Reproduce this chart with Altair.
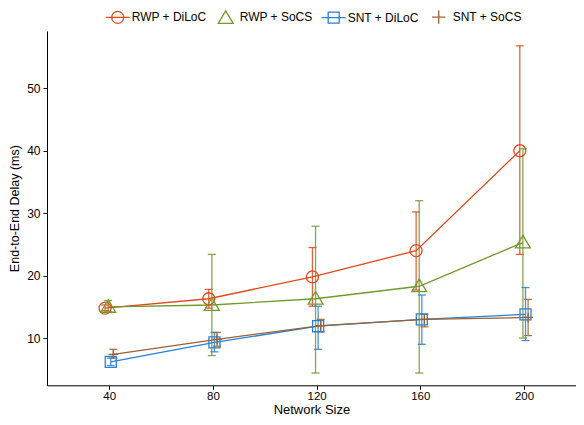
import altair as alt
import pandas as pd

sizes = [40, 80, 120, 160, 200]
series = ["RWP + DiLoC", "RWP + SoCS", "SNT + DiLoC", "SNT + SoCS"]
offsets = [-1.6, -0.4, 0.6, 1.6]
colors = ["#e2481c", "#6f9a2c", "#2a7fd6", "#9a6234"]

rwp_diloc = [14.8, 16.3, 19.8, 24.0, 40.0]
rwp_diloc_lo = [14.4, 14.8, 15.1, 17.7, 23.4]
rwp_diloc_hi = [15.3, 17.8, 24.5, 30.2, 56.8]
rwp_socs = [15.0, 15.3, 16.3, 18.3, 25.3]
rwp_socs_lo = [14.2, 7.2, 4.4, 4.4, 10.0]
rwp_socs_hi = [16.0, 23.4, 27.9, 32.0, 40.3]
snt_diloc = [6.2, 9.3, 11.9, 13.0, 13.8]
snt_diloc_lo = [5.6, 7.8, 8.2, 9.0, 9.6]
snt_diloc_hi = [6.8, 10.9, 15.1, 16.9, 18.1]
snt_socs = [7.4, 9.8, 12.0, 13.0, 13.3]
snt_socs_lo = [6.8, 8.7, 11.0, 11.8, 10.4]
snt_socs_hi = [8.2, 10.9, 13.0, 13.8, 16.2]

means = [rwp_diloc, rwp_socs, snt_diloc, snt_socs]
los = [rwp_diloc_lo, rwp_socs_lo, snt_diloc_lo, snt_socs_lo]
his = [rwp_diloc_hi, rwp_socs_hi, snt_diloc_hi, snt_socs_hi]

rows = []
for s, off, m, lo, hi in zip(series, offsets, means, los, his):
    for i, n in enumerate(sizes):
        rows.append({"series": s, "size": n, "xpos": n + off,
                     "y": m[i], "lo": lo[i], "hi": hi[i]})
df = pd.DataFrame(rows)

marker_paths = [
    "M0.5,0A0.5,0.5,0,1,1,-0.5,0A0.5,0.5,0,1,1,0.5,0Z",
    "M0,-0.6L0.62,0.45L-0.62,0.45Z",
    "M-0.46,-0.46H0.46V0.46H-0.46Z",
    "M-0.4,0H0.4M0,-0.4V0.4",
]
legend_paths = [
    "M-1,0H1M0.5,0A0.5,0.5,0,1,1,-0.5,0A0.5,0.5,0,1,1,0.5,0Z",
    "M0,-0.55L0.62,0.5L-0.62,0.5Z",
    "M-1,0H1M-0.46,-0.46H0.46V0.46H-0.46Z",
    "M-0.55,0H0.55M0,-0.55V0.55",
]
cap_path = "M-1,0H1"

xscale = alt.Scale(domain=[16, 220], nice=False, zero=False)
yscale = alt.Scale(domain=[2.44, 59.17], nice=False, zero=False)
cscale = alt.Scale(domain=series, range=colors)
lscale = alt.Scale(domain=series, range=legend_paths)

xax = alt.Axis(values=sizes, title="Network Size", grid=False, tickSize=4,
               labelFontSize=11.5, titleFontSize=13, titleFontWeight="normal",
               labelPadding=1, titlePadding=1.5)
yax = alt.Axis(values=[10, 20, 30, 40, 50], title="End-to-End Delay (ms)", grid=False,
               tickSize=4, labelFontSize=12, titleFontSize=12.5, titleFontWeight="normal",
               labelPadding=3, titlePadding=5)

legend = alt.Legend(
    title=None, orient="none", direction="horizontal", legendX=57.7, legendY=-27.3,
    symbolSize=576, symbolStrokeWidth=1.3, symbolFillColor="transparent",
    labelFontSize=12, labelOffset=1, columnPadding=6, padding=0,
)

base = alt.Chart(df)
col = alt.Color("series:N", scale=cscale, legend=legend)

lines = base.mark_line(strokeWidth=1.3).encode(
    x=alt.X("xpos:Q", scale=xscale, axis=xax),
    y=alt.Y("y:Q", scale=yscale, axis=yax),
    color=col,
    detail="series:N",
)
bars = base.mark_rule(strokeWidth=1.3, opacity=0.85).encode(
    x="xpos:Q", y="lo:Q", y2="hi:Q", color=col,
)
cap_lo = base.mark_point(filled=False, shape=cap_path, size=64, strokeWidth=1.3,
                         opacity=0.85).encode(x="xpos:Q", y="lo:Q", color=col)
cap_hi = base.mark_point(filled=False, shape=cap_path, size=64, strokeWidth=1.3,
                         opacity=0.85).encode(x="xpos:Q", y="hi:Q", color=col)

point_layers = []
for s, p in zip(series, marker_paths):
    point_layers.append(
        base.transform_filter(alt.datum.series == s)
        .mark_point(filled=False, size=576, strokeWidth=1.3, opacity=1, shape=p)
        .encode(x="xpos:Q", y="y:Q", color=col)
    )

legend_layer = base.transform_filter(alt.datum.y < -1000).mark_point(
    filled=False, size=576, strokeWidth=1.3, opacity=1
).encode(
    x="xpos:Q", y="y:Q",
    color=col,
    shape=alt.Shape("series:N", scale=lscale, legend=legend),
)

chart = alt.layer(legend_layer, bars, cap_lo, cap_hi, lines, *point_layers).properties(
    width=528.8, height=354.3,
    padding={"left": 39, "top": 23, "right": 0, "bottom": 31.5},
    autosize=alt.AutoSizeParams(type="none"),
).configure_view(stroke=None).configure_axis(
    domainColor="black", tickColor="black", labelColor="black", titleColor="black",
    labelFont="Liberation Sans", titleFont="Liberation Sans", domainWidth=1,
).configure_legend(labelFont="Liberation Sans", labelColor="black")

chart.save("out.html", embed_options={"renderer": "svg", "actions": False})
